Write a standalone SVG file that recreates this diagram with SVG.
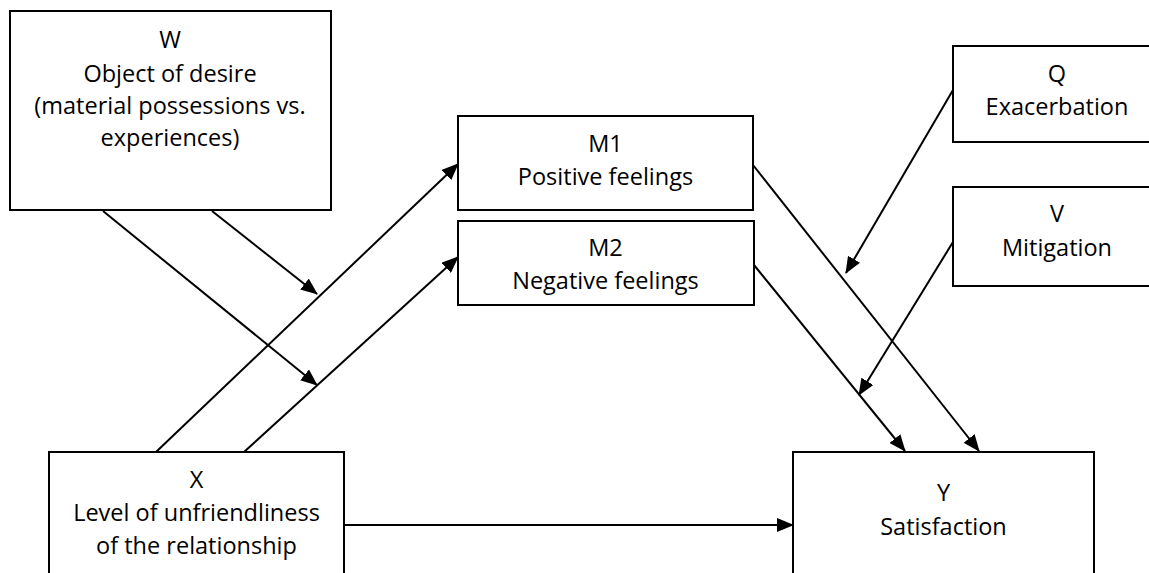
<svg xmlns="http://www.w3.org/2000/svg" width="1149" height="573" viewBox="0 0 1149 573">
<style>
.box{fill:#fff;stroke:#000;stroke-width:2}
.t{font-family:"Open Sans","Liberation Sans",sans-serif;font-size:23.5px;fill:#000;text-anchor:middle}
.c{stroke:#000;stroke-width:2;fill:none;marker-end:url(#ah)}
</style>
<defs>
<marker id="ah" markerUnits="userSpaceOnUse" markerWidth="17" markerHeight="14" refX="16" refY="7" orient="auto">
<path d="M0,0 L17,7 L0,14 Z" fill="#000"/>
</marker>
</defs>
<rect width="1149" height="573" fill="#fff"/>
<g id="connectors">
<line class="c" x1="212" y1="211" x2="317" y2="294"/>
<line class="c" x1="103" y1="211" x2="317" y2="385"/>
<line class="c" x1="156" y1="452" x2="458" y2="164"/>
<line class="c" x1="244" y1="452" x2="458" y2="257"/>
<line class="c" x1="753" y1="165" x2="979" y2="451"/>
<line class="c" x1="754" y1="265" x2="905" y2="451"/>
<line class="c" x1="953" y1="90" x2="846" y2="273"/>
<line class="c" x1="953" y1="242" x2="859" y2="395"/>
<line class="c" x1="344" y1="525" x2="793" y2="525"/>
</g>
<g id="W">
<rect class="box" x="10" y="11" width="321" height="199"/>
<text class="t" x="170" y="48">W</text>
<text class="t" x="170" y="82">Object of desire</text>
<text class="t" x="170" y="114">(material possessions vs.</text>
<text class="t" x="170" y="146">experiences)</text>
</g>
<g id="M1">
<rect class="box" x="458" y="116" width="295" height="94"/>
<text class="t" x="605.5" y="152">M1</text>
<text class="t" x="605.5" y="185">Positive feelings</text>
</g>
<g id="M2">
<rect class="box" x="458" y="221" width="296" height="84"/>
<text class="t" x="605.5" y="256">M2</text>
<text class="t" x="605.5" y="289">Negative feelings</text>
</g>
<g id="Q">
<rect class="box" x="953" y="46" width="210" height="96"/>
<text class="t" x="1057" y="82">Q</text>
<text class="t" x="1057" y="115">Exacerbation</text>
</g>
<g id="V">
<rect class="box" x="953" y="187" width="210" height="99"/>
<text class="t" x="1057" y="222">V</text>
<text class="t" x="1057" y="256">Mitigation</text>
</g>
<g id="X">
<rect class="box" x="49" y="452" width="295" height="140"/>
<text class="t" x="196.5" y="488">X</text>
<text class="t" x="196.5" y="521">Level of unfriendliness</text>
<text class="t" x="196.5" y="554">of the relationship</text>
</g>
<g id="Y">
<rect class="box" x="793" y="452" width="301" height="140"/>
<text class="t" x="943.5" y="501">Y</text>
<text class="t" x="943.5" y="535">Satisfaction</text>
</g>
</svg>
